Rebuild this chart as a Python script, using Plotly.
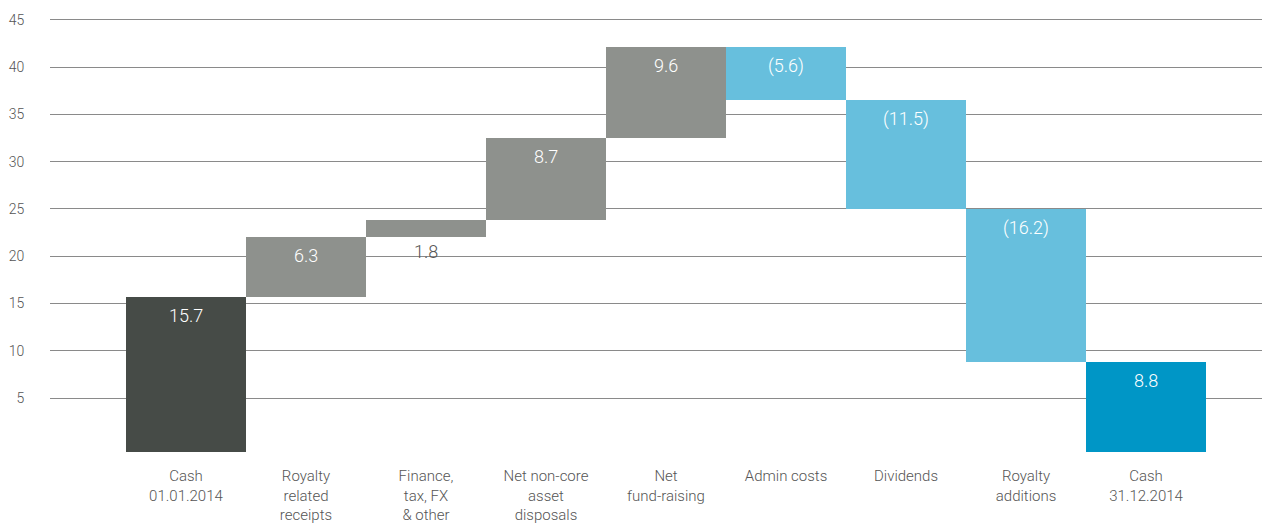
import numpy as np
import plotly.graph_objects as go

categories = ["Cash<br>01.01.2014", "Royalty<br>related<br>receipts", "Finance,<br>tax, FX<br>& other",
              "Net non-core<br>asset<br>disposals", "Net<br>fund-raising", "Admin costs", "Dividends",
              "Royalty<br>additions", "Cash<br>31.12.2014"]
changes = [15.7, 6.3, 1.8, 8.7, 9.6, -5.6, -11.5, -16.2]
closing_cash = 8.8
colors = ["#464b47", "#8e918d", "#8e918d", "#8e918d", "#8e918d", "#67bfdd", "#67bfdd", "#67bfdd", "#0096c6"]
y_ticks = [5, 10, 15, 20, 25, 30, 35, 40, 45]

FONT = "Roboto"
Y_MIN = -0.7

# running totals -> bar base and height
ends = np.cumsum(changes)
starts = np.concatenate([[0], ends[:-1]])
base = list(np.minimum(starts, ends)) + [0]
height = list(np.abs(ends - starts)) + [closing_cash]
# start/end cash bars sit on the axis floor
base[0] = Y_MIN
height[0] = changes[0] - Y_MIN
base[-1] = Y_MIN
height[-1] = closing_cash - Y_MIN

values = changes + [closing_cash]
labels = [f"{v:.1f}" if v >= 0 else f"({abs(v):.1f})" for v in values]

fig = go.Figure()
fig.add_trace(go.Bar(
    x=categories, y=height, base=base,
    marker_color=colors, marker_line_width=0,
    hoverinfo="skip"))

for i, (cat, lab) in enumerate(zip(categories, labels)):
    top = base[i] + height[i]
    if height[i] < 3:
        # short bar: label goes under it
        fig.add_annotation(x=cat, y=base[i], text=lab, showarrow=False, yanchor="top", yshift=-2,
                           font=dict(family=FONT, size=18, color="#555", weight=300))
    else:
        fig.add_annotation(x=cat, y=top, text=lab, showarrow=False, yanchor="top", yshift=-6,
                           font=dict(family=FONT, size=18, color="white", weight=300))

# page body has an 8px margin, so the figure is 8px smaller than the window
fig.update_layout(
    width=1262, height=516,
    margin=dict(l=42, r=0, t=7, b=72),
    plot_bgcolor="white", paper_bgcolor="white",
    bargap=0, showlegend=False,
    font=dict(family=FONT, color="#555", weight=300),
)
fig.update_xaxes(range=[-1.133, 9.033], showgrid=False, zeroline=False, showline=False,
                 ticks="outside", ticklen=10, tickcolor="rgba(0,0,0,0)", automargin=False,
                 tickfont=dict(family=FONT, size=15, color="#555", weight=300))
fig.update_yaxes(range=[Y_MIN, 45.5], tickvals=y_ticks, showgrid=True, gridcolor="#8a8a8a",
                 gridwidth=1, zeroline=False, showline=False, automargin=False,
                 ticks="outside", ticklen=22, tickcolor="rgba(0,0,0,0)",
                 tickfont=dict(family=FONT, size=14, color="#555", weight=300))

fig.write_html("out.html")
